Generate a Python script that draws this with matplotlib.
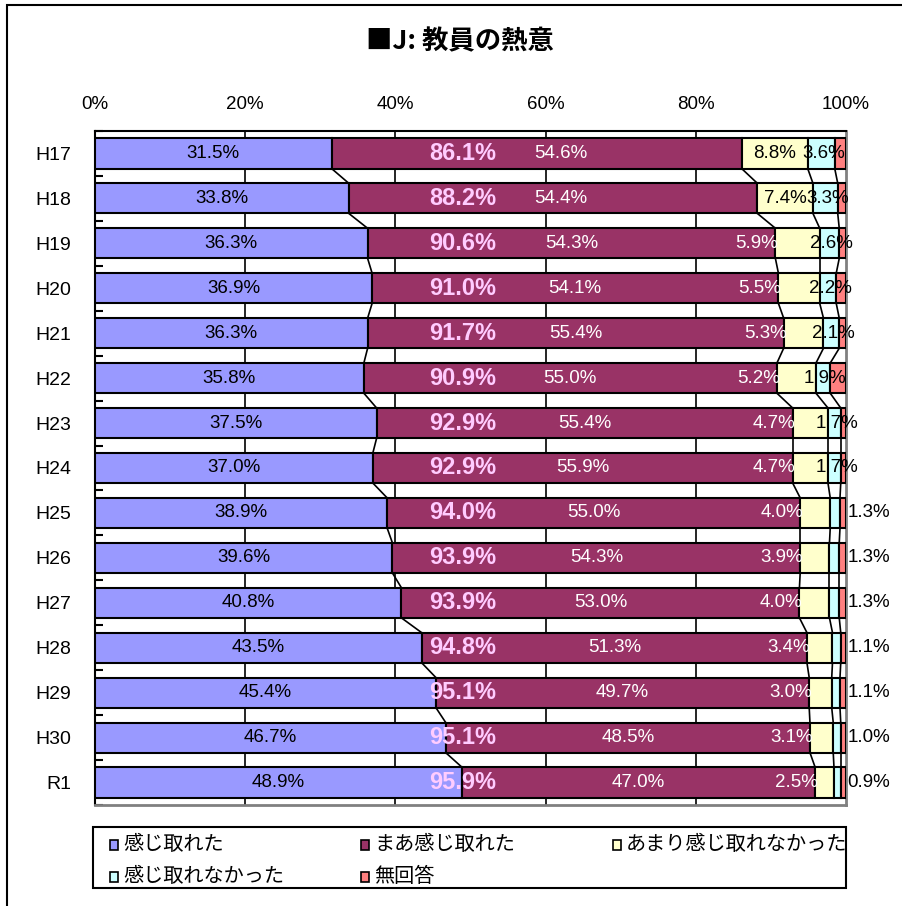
import matplotlib
matplotlib.use("Agg")
import matplotlib.pyplot as plt
from matplotlib.patches import Rectangle
import numpy as np

plt.rcParams['font.family'] = ['Liberation Sans', 'Noto Sans CJK JP', 'DejaVu Sans']

years = ["H17", "H18", "H19", "H20", "H21", "H22", "H23", "H24",
         "H25", "H26", "H27", "H28", "H29", "H30", "R1"]
felt = [31.5, 33.8, 36.3, 36.9, 36.3, 35.8, 37.5, 37.0,
        38.9, 39.6, 40.8, 43.5, 45.4, 46.7, 48.9]
somewhat = [54.6, 54.4, 54.3, 54.1, 55.4, 55.0, 55.4, 55.9,
            55.0, 54.3, 53.0, 51.3, 49.7, 48.5, 47.0]
not_much = [8.8, 7.4, 5.9, 5.5, 5.3, 5.2, 4.7, 4.7,
            4.0, 3.9, 4.0, 3.4, 3.0, 3.1, 2.5]
not_felt = [3.6, 3.3, 2.6, 2.2, 2.1, 1.9, 1.7, 1.7,
            1.3, 1.3, 1.3, 1.1, 1.1, 1.0, 0.9]
no_answer = [1.5, 1.1, 0.9, 1.3, 0.9, 2.1, 0.7, 0.7,
             0.8, 0.9, 0.9, 0.7, 0.8, 0.7, 0.7]
positive_total = ["86.1%", "88.2%", "90.6%", "91.0%", "91.7%", "90.9%", "92.9%", "92.9%",
                  "94.0%", "93.9%", "93.9%", "94.8%", "95.1%", "95.1%", "95.9%"]
series_names = ["感じ取れた", "まあ感じ取れた", "あまり感じ取れなかった", "感じ取れなかった", "無回答"]
colors = ["#9999FF", "#993366", "#FFFFCC", "#CCFFFF", "#FF8080"]
xticks = [0, 20, 40, 60, 80, 100]
title = "■J: 教員の熱意"

W, H = 903, 906
fig = plt.figure(figsize=(W / 100, H / 100), dpi=100)
fig.patch.set_facecolor("white")

def fx(px):
    return px / W

def fy(py):
    return 1 - py / H

ax_l, ax_r, ax_t, ax_b = 95, 846, 131, 805
ax = fig.add_axes([fx(ax_l), fy(ax_b), fx(ax_r - ax_l), (ax_b - ax_t) / H])

series = [felt, somewhat, not_much, not_felt, no_answer]
n = len(years)
y = np.arange(n)
bh = 0.67
left = np.zeros(n)
cums = []
for vals, col in zip(series, colors):
    v = np.array(vals)
    ax.barh(y, v, left=left, height=bh, color=col, edgecolor="black", linewidth=1.5, zorder=3)
    left = left + v
    cums.append(left.copy())

# series lines between bars
for c in cums[:4]:
    for i in range(n - 1):
        ax.plot([c[i], c[i + 1]], [i + bh / 2, i + 1 - bh / 2], color="black", lw=1.2, zorder=2)

ax.set_xlim(0, 100)
ax.set_ylim(n - 0.5, -0.5)
ax.set_xticks(xticks)
ax.set_xticklabels([f"{t}%" for t in xticks], fontsize=13.5)
ax.xaxis.tick_top()
ax.tick_params(axis="x", length=0, pad=13)
for t in xticks[1:-1]:
    ax.axvline(t, color="black", lw=1.2, zorder=1)

ax.set_yticks(y)
ax.set_yticklabels(years, fontsize=14)
ax.tick_params(axis="y", length=0, pad=17)
ax.set_yticks(np.arange(-0.5, n, 1), minor=True)
ax.tick_params(axis="y", which="minor", direction="in", length=6, width=1.5, color="black")

for s in ["left", "top"]:
    ax.spines[s].set_color("black")
    ax.spines[s].set_linewidth(1.5)
for s in ["right", "bottom"]:
    ax.spines[s].set_color("#808080")
    ax.spines[s].set_linewidth(2)

lab_fs = 13.5
for i in range(n):
    a, b, c, d = felt[i], somewhat[i], not_much[i], not_felt[i]
    ax.text(a / 2, i, f"{a:.1f}%", ha="center", va="center", fontsize=lab_fs, color="black", zorder=5)
    ax.text(max(a + b / 2, 62), i, f"{b:.1f}%", ha="center", va="center", fontsize=lab_fs,
            color="white", zorder=5)
    ax.text(49, i, positive_total[i], ha="center", va="center", fontsize=17, fontweight="bold",
            color="#FFCCFF", zorder=6)
    if c >= 7:
        ax.text(a + b + c / 2, i, f"{c:.1f}%", ha="center", va="center", fontsize=lab_fs,
                color="black", zorder=5)
    else:
        ax.text(a + b + 0.4, i, f"{c:.1f}%", ha="right", va="center", fontsize=lab_fs,
                color="white", zorder=5)
    if d >= 1.5:
        ax.text(a + b + c + d / 2 + 0.3, i, f"{d:.1f}%", ha="center", va="center", fontsize=lab_fs,
                color="black", zorder=5)
    else:
        ax.text(100.2, i, f"{d:.1f}%", ha="left", va="center", fontsize=lab_fs, color="black",
                zorder=5)

# title
fig.text(fx(460), fy(42), title, ha="center", va="center", fontsize=19, fontweight="bold",
         family=["Noto Sans CJK JP", "DejaVu Sans"])

# legend box
fig.add_artist(Rectangle((fx(93), fy(888)), fx(846 - 93), (888 - 827) / H, transform=fig.transFigure,
                         facecolor="white", edgecolor="black", lw=1.5))
leg_pos = [(110, 845), (361, 845), (613, 845), (110, 877), (361, 877)]
for (px, py), name, col in zip(leg_pos, series_names, colors):
    fig.add_artist(Rectangle((fx(px), fy(py + 5)), fx(8), 10 / H, transform=fig.transFigure,
                             facecolor=col, edgecolor="black", lw=1.2))
    fig.text(fx(px + 13), fy(py), name, ha="left", va="center", fontsize=14.5,
             family=["Noto Sans CJK JP", "DejaVu Sans"])

# outer chart border
fig.add_artist(Rectangle((fx(7), -0.02), 1.1, fy(5) + 0.02, transform=fig.transFigure,
                         facecolor="none", edgecolor="black", lw=1.5))

fig.savefig("out.png", dpi=100)
